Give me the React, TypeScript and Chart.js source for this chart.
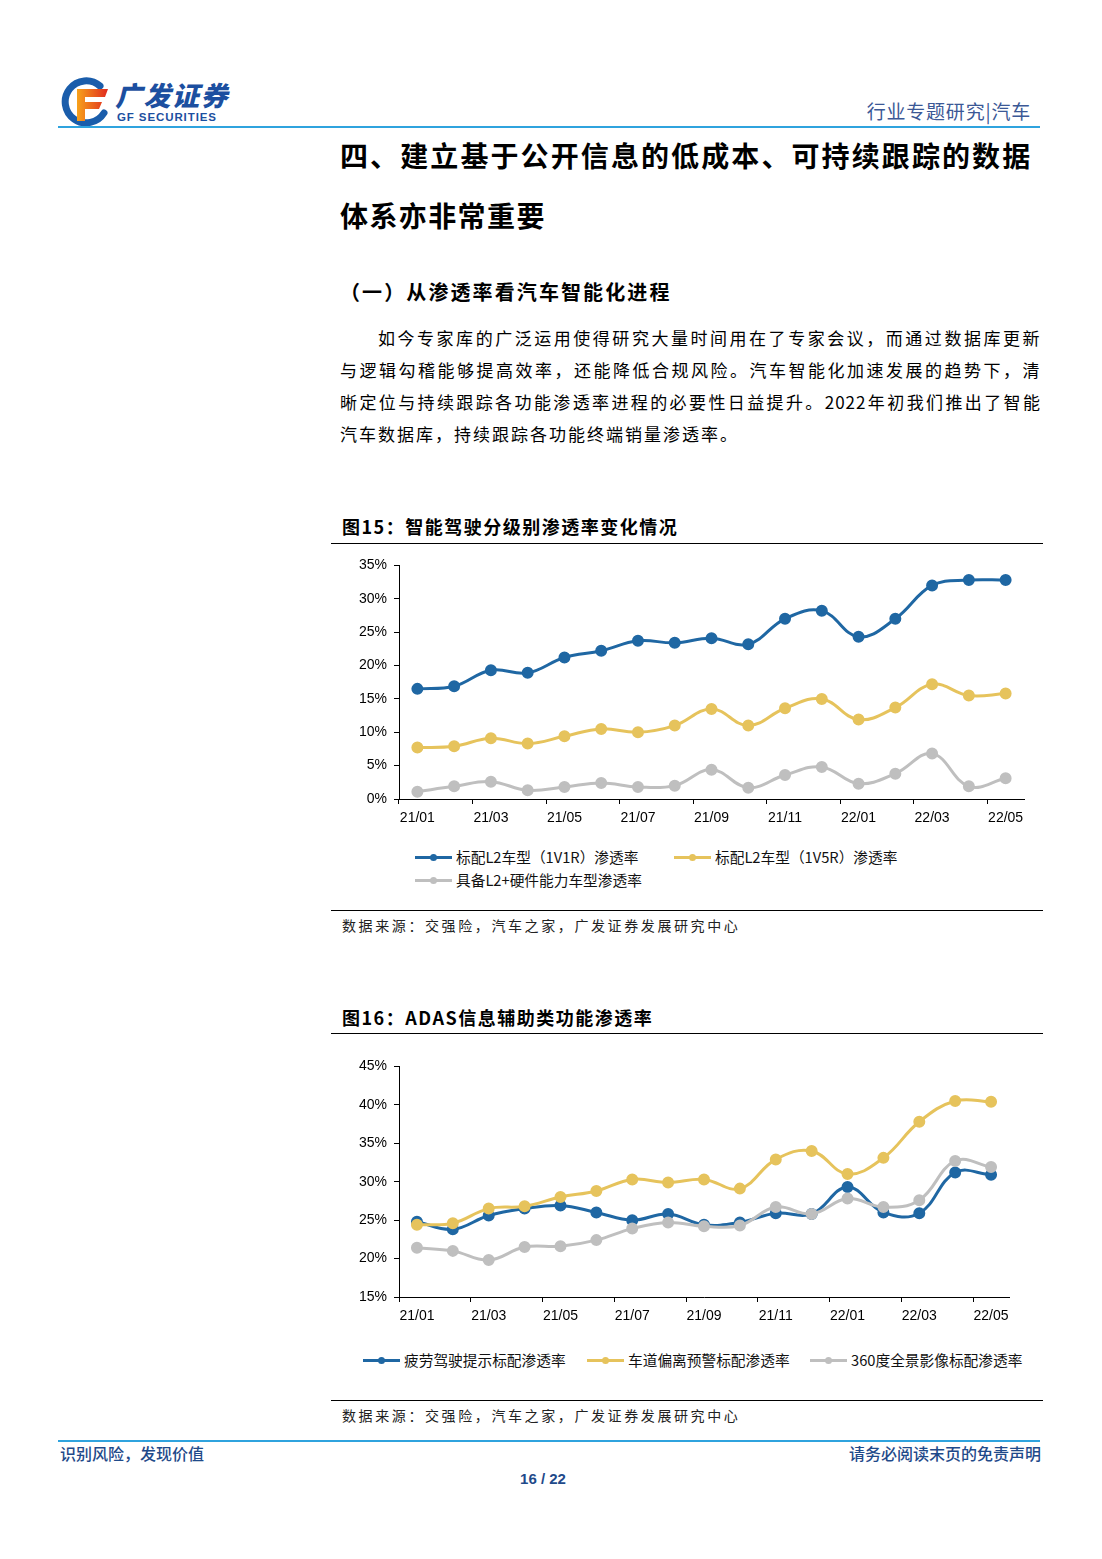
import React, { useEffect, useRef } from 'react';
import { Chart, registerables } from 'chart.js';

Chart.register(...registerables);

// ---------- data ----------
const months = ['21/01', '21/02', '21/03', '21/04', '21/05', '21/06', '21/07', '21/08', '21/09', '21/10', '21/11', '21/12', '22/01', '22/02', '22/03', '22/04', '22/05'];

// 图15
const l2Rate1V1R = [16.5, 16.9, 19.3, 18.9, 21.2, 22.2, 23.7, 23.4, 24.1, 23.2, 27.0, 28.2, 24.3, 27.0, 32.0, 32.8, 32.8];
const l2Rate1V5R = [7.7, 7.9, 9.1, 8.3, 9.4, 10.5, 10.0, 11.0, 13.5, 11.0, 13.6, 15.0, 11.9, 13.7, 17.2, 15.5, 15.8];
const l2PlusHardwareRate = [1.1, 1.9, 2.6, 1.3, 1.8, 2.4, 1.8, 2.0, 4.4, 1.7, 3.6, 4.8, 2.3, 3.8, 6.8, 1.9, 3.1];
const chart1Names = ['标配L2车型（1V1R）渗透率', '标配L2车型（1V5R）渗透率', '具备L2+硬件能力车型渗透率'];

// 图16
const fatigueAlertRate = [24.8, 23.8, 25.6, 26.5, 26.9, 26.0, 25.0, 25.8, 24.4, 24.7, 25.9, 25.8, 29.3, 26.0, 25.9, 31.2, 30.9];
const laneDepartureRate = [24.4, 24.6, 26.5, 26.8, 28.0, 28.8, 30.3, 29.9, 30.3, 29.1, 32.9, 34.0, 31.0, 33.1, 37.8, 40.5, 40.4];
const surroundViewRate = [21.4, 21.0, 19.8, 21.5, 21.6, 22.4, 23.9, 24.7, 24.2, 24.3, 26.7, 25.8, 27.8, 26.7, 27.6, 32.7, 31.9];
const chart2Names = ['疲劳驾驶提示标配渗透率', '车道偏离预警标配渗透率', '360度全景影像标配渗透率'];

const BLUE = '#1f67a3';
const YELLOW = '#e6c35c';
const GRAY = '#bfbfbf';
const seriesColors = [BLUE, YELLOW, GRAY];

const CJK = '"Noto Sans CJK SC", "Noto Sans", sans-serif';
const LATIN = '"Liberation Sans", Arial, sans-serif';

type LineChartProps = {
  left: number;
  top: number;
  width: number;
  height: number;
  padRight: number;
  names: string[];
  series: number[][];
  yMin: number;
  yMax: number;
  yStep: number;
};

function LineChart(props: LineChartProps) {
  const ref = useRef<HTMLCanvasElement | null>(null);
  useEffect(() => {
    if (!ref.current) return;
    const n = props.series.length;
    const chart = new Chart(ref.current, {
      type: 'line',
      data: {
        labels: months,
        datasets: props.series.map((d, i) => ({
          label: props.names[i],
          data: d,
          borderColor: seriesColors[i],
          backgroundColor: seriesColors[i],
          pointBackgroundColor: seriesColors[i],
          pointBorderColor: seriesColors[i],
          borderWidth: 3,
          pointRadius: 4.5,
          pointHoverRadius: 4.5,
          tension: 0.4,
          fill: false,
          order: n - i,
        })),
      },
      options: {
        animation: false,
        responsive: false,
        maintainAspectRatio: false,
        layout: { padding: { left: 0, right: props.padRight, top: 10, bottom: 3 } },
        plugins: { legend: { display: false }, tooltip: { enabled: false } },
        scales: {
          x: {
            type: 'category',
            offset: true,
            grid: {
              offset: true,
              drawOnChartArea: false,
              drawTicks: true,
              tickLength: 5,
              tickWidth: 1,
              tickColor: (ctx: any) => (typeof ctx.index === 'number' && ctx.index % 2 === 0 ? '#000' : 'rgba(0,0,0,0)'),
            },
            border: { display: true, color: '#000', width: 1 },
            ticks: {
              autoSkip: false,
              maxRotation: 0,
              minRotation: 0,
              padding: 6,
              color: '#000',
              font: { family: LATIN, size: 14 },
              callback: function (this: any, v: any, i: number) {
                return i % 2 === 0 ? this.getLabelForValue(v) : '';
              },
            },
            afterFit: (s: any) => {
              s.height = 30;
            },
          },
          y: {
            min: props.yMin,
            max: props.yMax,
            grid: { drawOnChartArea: false, drawTicks: true, tickLength: 5, tickColor: '#000' },
            border: { display: true, color: '#000', width: 1 },
            ticks: {
              stepSize: props.yStep,
              padding: 7,
              color: '#000',
              font: { family: LATIN, size: 14 },
              callback: (v: any) => v + '%',
            },
            afterFit: (s: any) => {
              s.width = 68;
            },
          },
        },
      } as any,
    });
    return () => chart.destroy();
  }, []);
  return (
    <canvas
      ref={ref}
      width={props.width}
      height={props.height}
      style={{ position: 'absolute', left: props.left, top: props.top, width: props.width, height: props.height }}
    />
  );
}

type TProps = {
  x?: number;
  right?: number;
  y: number;
  size: number;
  text: string;
  color?: string;
  weight?: number | string;
  ls?: number;
  family?: string;
  width?: number;
  justify?: boolean;
};

function T(p: TProps) {
  const lh = Math.round(p.size * 1.4);
  const style: React.CSSProperties = {
    position: 'absolute',
    top: p.y - lh / 2 - p.size * 0.05,
    fontSize: p.size,
    lineHeight: lh + 'px',
    height: lh,
    color: p.color || '#000',
    fontWeight: (p.weight as any) || 400,
    letterSpacing: p.ls ? p.ls : 0,
    fontFamily: p.family || CJK,
    whiteSpace: p.justify ? 'normal' : 'nowrap',
    overflow: 'visible',
  };
  if (p.x !== undefined) style.left = p.x;
  if (p.right !== undefined) style.right = p.right;
  if (p.width !== undefined) style.width = p.width;
  if (p.justify) {
    style.textAlign = 'justify';
    (style as any).textAlignLast = 'justify';
  }
  return <div style={style}>{p.text}</div>;
}

function HLine(p: { x1: number; x2: number; y: number; color: string; h?: number }) {
  const h = p.h || 1;
  return <div style={{ position: 'absolute', left: p.x1, top: p.y - h / 2, width: p.x2 - p.x1, height: h, background: p.color }} />;
}

function LegendItem(p: { x: number; y: number; color: string; text: string }) {
  return (
    <>
      <div style={{ position: 'absolute', left: p.x, top: p.y - 1.5, width: 37, height: 3, background: p.color }}>
        <div style={{ position: 'absolute', left: 15, top: -2, width: 7, height: 7, borderRadius: '50%', background: p.color }} />
      </div>
      <T x={p.x + 41} y={p.y} size={14.7} text={p.text} color="#111" />
    </>
  );
}

function Logo() {
  return (
    <div style={{ position: 'absolute', left: 58, top: 76, width: 180, height: 52 }}>
      <svg width="52" height="52" viewBox="0 0 52 52" style={{ position: 'absolute', left: 2, top: 1 }}>
        <defs>
          <linearGradient id="gfRed" x1="0" y1="0" x2="1" y2="0">
            <stop offset="0" stopColor="#f7a21b" />
            <stop offset="1" stopColor="#e02a1f" />
          </linearGradient>
        </defs>
        <path d="M 40 9 A 21 21 0 1 0 44 36" fill="none" stroke="#1a5dab" strokeWidth="7" strokeLinecap="round" />
        <path d="M 17 12 L 48 12 L 45 20 L 25 20 L 25 25 L 42 25 L 39 32 L 25 32 L 25 44 L 17 44 Z" fill="url(#gfRed)" />
      </svg>
      <div style={{ position: 'absolute', left: 57, top: 2, fontFamily: CJK, fontWeight: 900, fontSize: 27, lineHeight: '34px', color: '#1c4fa0', letterSpacing: 1.5, fontStyle: 'italic' }}>广发证券</div>
      <div style={{ position: 'absolute', left: 59, top: 34, fontFamily: LATIN, fontWeight: 700, fontSize: 11.5, lineHeight: '14px', color: '#1c4fa0', letterSpacing: 0.9 }}>GF SECURITIES</div>
    </div>
  );
}

export default function App() {
  useEffect(() => {
    document.body.style.margin = '0';
  }, []);
  const para = 17;
  return (
    <div style={{ position: 'absolute', left: 0, top: 0, width: 1102, height: 1559, background: '#fff', overflow: 'hidden', fontFamily: CJK }}>
      <Logo />
      <T right={71} y={111} size={19} ls={0.8} text="行业专题研究|汽车" color="#3b5896" />
      <HLine x1={58} x2={1040} y={127} color="#2fa3de" h={2} />

      <T x={340} y={157} size={28} weight={700} ls={2.1} text="四、建立基于公开信息的低成本、可持续跟踪的数据" />
      <T x={340} y={217} size={28} weight={700} ls={1.4} text="体系亦非常重要" />
      <T x={340} y={293} size={20} weight={700} ls={2.1} text="（一）从渗透率看汽车智能化进程" />

      <T x={378} y={339} size={para} ls={1.5} width={663} justify text="如今专家库的广泛运用使得研究大量时间用在了专家会议，而通过数据库更新" />
      <T x={340} y={371} size={para} ls={1.5} width={701} justify text="与逻辑勾稽能够提高效率，还能降低合规风险。汽车智能化加速发展的趋势下，清" />
      <T x={340} y={403} size={para} ls={1} width={701} justify text="晰定位与持续跟踪各功能渗透率进程的必要性日益提升。2022年初我们推出了智能" />
      <T x={340} y={435} size={para} ls={2} text="汽车数据库，持续跟踪各功能终端销量渗透率。" />

      {/* 图15 */}
      <T x={342} y={527} size={18} weight={700} ls={1.5} text="图15：智能驾驶分级别渗透率变化情况" />
      <HLine x1={331} x2={1043} y={543} color="#000" />
      <LineChart left={331} top={550} width={712} height={282} padRight={19} names={chart1Names} series={[l2Rate1V1R, l2Rate1V5R, l2PlusHardwareRate]} yMin={0} yMax={35} yStep={5} />
      <LegendItem x={415} y={857} color={BLUE} text={chart1Names[0]} />
      <LegendItem x={674} y={857} color={YELLOW} text={chart1Names[1]} />
      <LegendItem x={415} y={880} color={GRAY} text={chart1Names[2]} />
      <HLine x1={331} x2={1043} y={910} color="#000" />
      <T x={342} y={926} size={14} ls={2.6} text="数据来源：交强险，汽车之家，广发证券发展研究中心" color="#222" />

      {/* 图16 */}
      <T x={342} y={1018} size={18} weight={700} ls={1.5} text="图16：ADAS信息辅助类功能渗透率" />
      <HLine x1={331} x2={1043} y={1033} color="#000" />
      <LineChart left={331} top={1051} width={712} height={279} padRight={34} names={chart2Names} series={[fatigueAlertRate, laneDepartureRate, surroundViewRate]} yMin={15} yMax={45} yStep={5} />
      <LegendItem x={363} y={1360} color={BLUE} text={chart2Names[0]} />
      <LegendItem x={587} y={1360} color={YELLOW} text={chart2Names[1]} />
      <LegendItem x={810} y={1360} color={GRAY} text={chart2Names[2]} />
      <HLine x1={331} x2={1043} y={1400} color="#000" />
      <T x={342} y={1416} size={14} ls={2.6} text="数据来源：交强险，汽车之家，广发证券发展研究中心" color="#222" />

      {/* footer */}
      <HLine x1={58} x2={1040} y={1441} color="#2fa3de" h={2} />
      <T x={60} y={1454} size={16} weight={500} text="识别风险，发现价值" color="#1f4a8a" />
      <T right={61} y={1454} size={16} weight={500} text="请务必阅读末页的免责声明" color="#1f4a8a" />
      <div style={{ position: 'absolute', left: 493, width: 100, top: 1469, textAlign: 'center', fontFamily: LATIN, fontWeight: 700, fontSize: 15, lineHeight: '20px', color: '#1f4a8a' }}>16 / 22</div>
    </div>
  );
}
